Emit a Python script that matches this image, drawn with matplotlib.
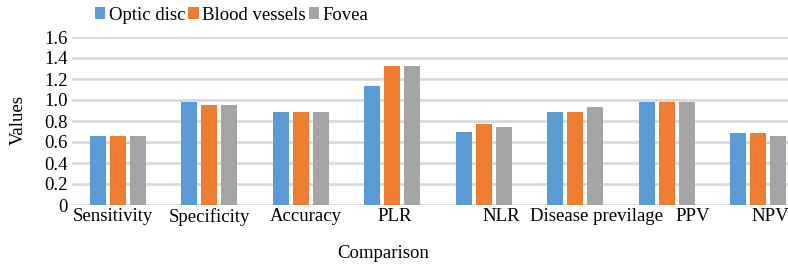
import numpy as np
import matplotlib.pyplot as plt

categories = ['Sensitivity', 'Specificity', 'Accuracy', 'PLR', 'NLR',
              'Disease previlage', 'PPV', 'NPV']
optic_disc = [0.66, 0.98, 0.89, 1.13, 0.70, 0.89, 0.98, 0.69]
blood_vessels = [0.66, 0.95, 0.89, 1.32, 0.77, 0.89, 0.98, 0.69]
fovea = [0.66, 0.95, 0.89, 1.32, 0.74, 0.93, 0.98, 0.66]
yticks = [0, 0.2, 0.4, 0.6, 0.8, 1.0, 1.2, 1.4, 1.6]
ytick_labels = ['0', '0.2', '0.4', '0.6', '0.8', '1.0', '1.2', '1.4', '1.6']
# label shift (in category units), the original labels sit a bit off-centre
label_shift = [-0.05, 0.0, 0.05, 0.03, 0.19, 0.23, 0.28, 0.13]

plt.rcParams['font.family'] = ['Liberation Serif', 'DejaVu Serif']
plt.rcParams['font.size'] = 13.5

fig = plt.figure(figsize=(7.88, 2.65), dpi=100)
W, H = 788, 265
ax = fig.add_axes([72 / W, (H - 205) / H, 732 / W, 168 / H])

x = np.arange(len(categories))
w = 0.175
step = 0.22
ax.bar(x - step, optic_disc, w, color='#5B9BD5', label='Optic disc', zorder=3)
ax.bar(x, blood_vessels, w, color='#ED7D31', label='Blood vessels', zorder=3)
ax.bar(x + step, fovea, w, color='#A5A5A5', label='Fovea', zorder=3)

ax.set_xlim(-0.5, len(categories) - 0.5)
ax.set_ylim(0, 1.6)
ax.set_yticks(yticks)
ax.set_yticklabels(ytick_labels)
ax.set_xticks(x + np.array(label_shift))
ax.set_xticklabels(categories)
ax.grid(axis='y', color='#D9D9D9', linewidth=2, zorder=0)
ax.tick_params(length=0, pad=2)
ax.tick_params(axis='y', pad=3)
for s in ax.spines.values():
    s.set_visible(False)

fig.text(18 / W, 1 - 120 / H, 'Values', rotation=90, ha='center', va='center')
fig.text(383 / W, 1 - 254 / H, 'Comparison', ha='center', va='center')

fig.legend(loc='center left', bbox_to_anchor=(95 / W, 1 - 15 / H), ncol=3,
           frameon=False, handlelength=0.55, handleheight=0.55,
           handletextpad=0.2, columnspacing=0.15, borderpad=0, borderaxespad=0)

fig.savefig('out.png', dpi=100)
